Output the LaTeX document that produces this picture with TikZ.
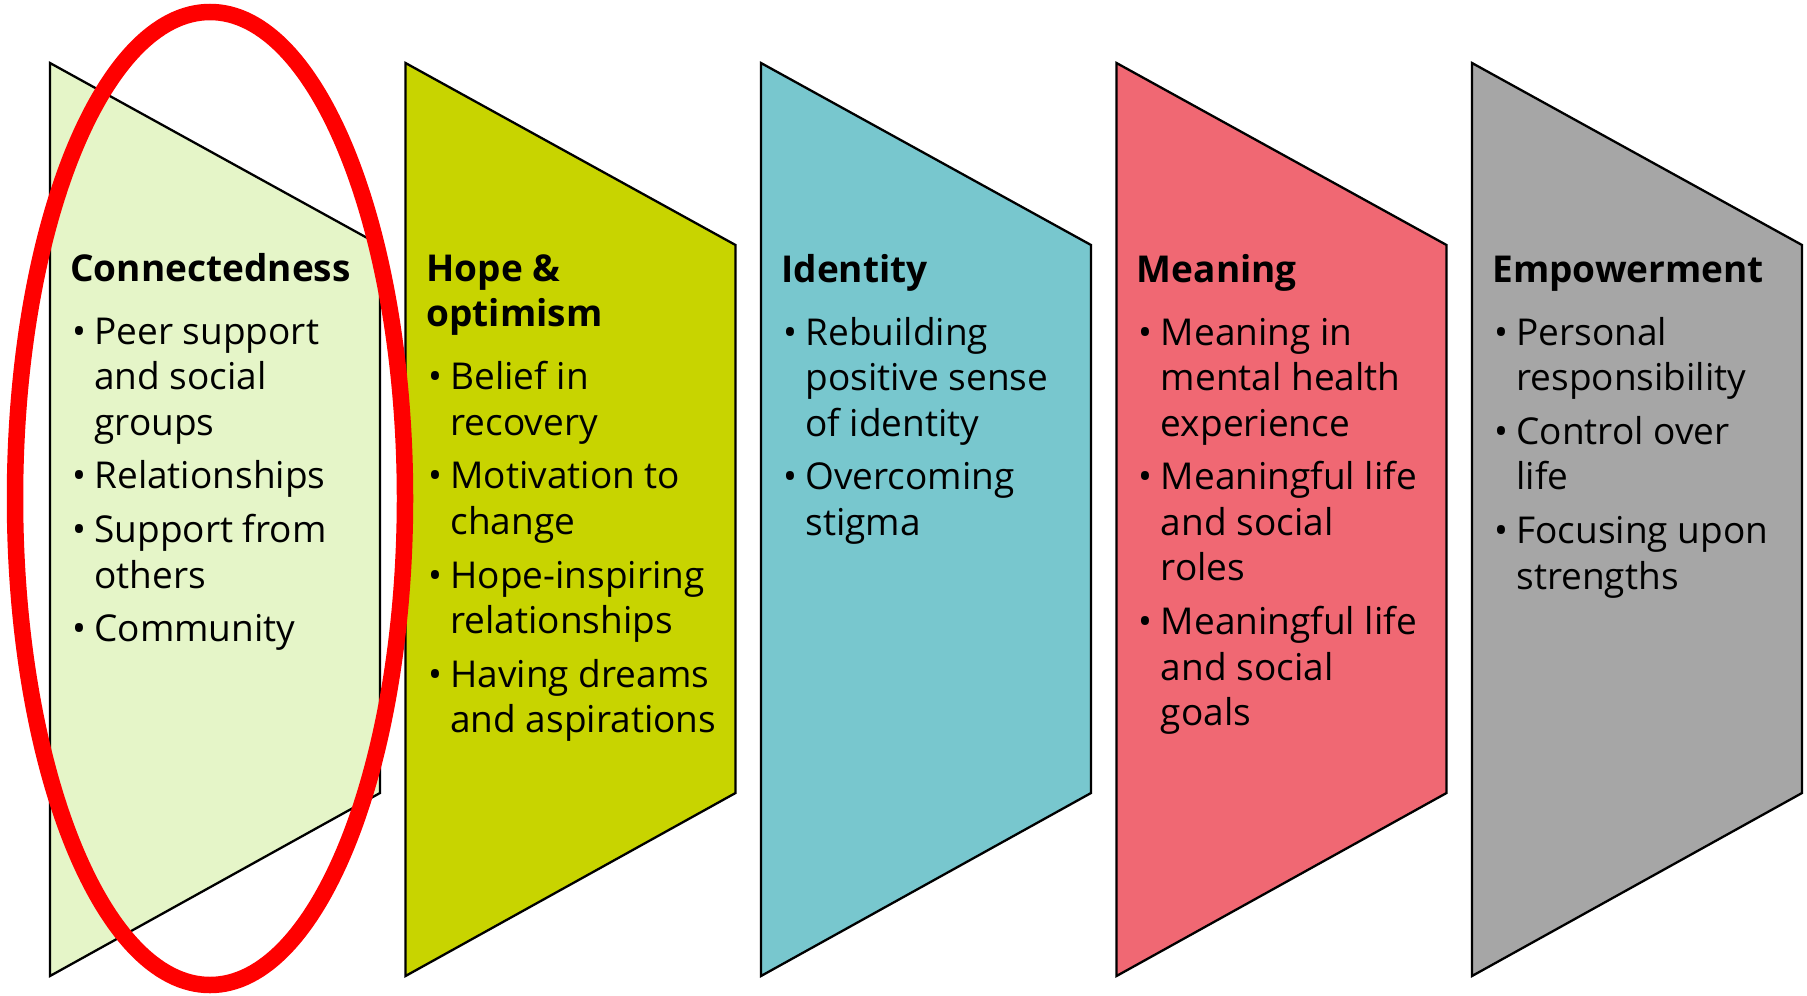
\documentclass[tikz,border=0pt]{standalone}
\usepackage{fontspec}
\setmainfont{Open Sans}
\usepackage{tikz}
\usepackage{xcolor}

\definecolor{connectfill}{HTML}{E5F5C8}
\definecolor{hopefill}{HTML}{C8D400}
\definecolor{identityfill}{HTML}{78C7CE}
\definecolor{meaningfill}{HTML}{F06873}
\definecolor{powerfill}{HTML}{A6A6A6}

\newlength\itemgap
\setlength\itemgap{4.1pt}
\newlength\headgap
\setlength\headgap{4.75pt}

% one bullet point, hanging indent for the wrapped lines
\newcommand{\bul}[1]{\par\vspace{\itemgap}\hangindent=12pt\noindent\hbox to 12pt{\hskip1pt\textbullet\hfil}#1}
% heading + bullets, baseline on the first line
\newcommand{\paneltext}[2]{\vtop{\hsize=170pt\raggedright\parindent=0pt
    \fontsize{18.5}{22.75}\selectfont\bfseries #1\par
    \vspace{\headgap}\mdseries #2\par}}

\begin{document}
\begin{tikzpicture}[x=0.5pt, y=-0.5pt,
                    panel/.style={draw=black, line width=1.15pt, line join=miter},
                    panel text/.style={anchor=base west, inner sep=0pt, align=left},
                    ring/.style={draw=red, line width=8.25pt}]

    \useasboundingbox (0,0) rectangle (1807,995);

    % the five panels
    \filldraw[panel, fill=connectfill]  (50,63)     -- ++(330,182) -- ++(0,548) -- ++(-330,183) -- cycle;
    \filldraw[panel, fill=hopefill]     (405.5,63)  -- ++(330,182) -- ++(0,548) -- ++(-330,183) -- cycle;
    \filldraw[panel, fill=identityfill] (761,63)    -- ++(330,182) -- ++(0,548) -- ++(-330,183) -- cycle;
    \filldraw[panel, fill=meaningfill]  (1116.5,63) -- ++(330,182) -- ++(0,548) -- ++(-330,183) -- cycle;
    \filldraw[panel, fill=powerfill]    (1472,63)   -- ++(330,182) -- ++(0,548) -- ++(-330,183) -- cycle;

    \node[panel text] (connect) at (70,281) {\paneltext{Connectedness}{%
        \bul{Peer support\newline and social\newline groups}
        \bul{Relationships}
        \bul{Support from\newline others}
        \bul{Community}}};

    \node[panel text] (hope) at (426,281) {\paneltext{Hope \&\\optimism}{%
        \bul{Belief in\newline recovery}
        \bul{Motivation to\newline change}
        \bul{Hope-inspiring\newline relationships}
        \bul{Having dreams\newline and aspirations}}};

    \node[panel text] (identity) at (781,282) {\paneltext{Identity}{%
        \bul{Rebuilding\newline positive sense\newline of identity}
        \bul{Overcoming\newline stigma}}};

    \node[panel text] (meaning) at (1136.5,282) {\paneltext{Meaning}{%
        \bul{Meaning in\newline mental health\newline experience}
        \bul{Meaningful life\newline and social\newline roles}
        \bul{Meaningful life\newline and social\newline goals}}};

    \node[panel text] (power) at (1492,282) {\paneltext{Empowerment}{%
        \bul{Personal\newline responsibility}
        \bul{Control over\newline life}
        \bul{Focusing upon\newline strengths}}};

    % highlight round the first panel
    \draw[ring] (210,498.5) ellipse [x radius=195, y radius=486.5];

\end{tikzpicture}
\end{document}
